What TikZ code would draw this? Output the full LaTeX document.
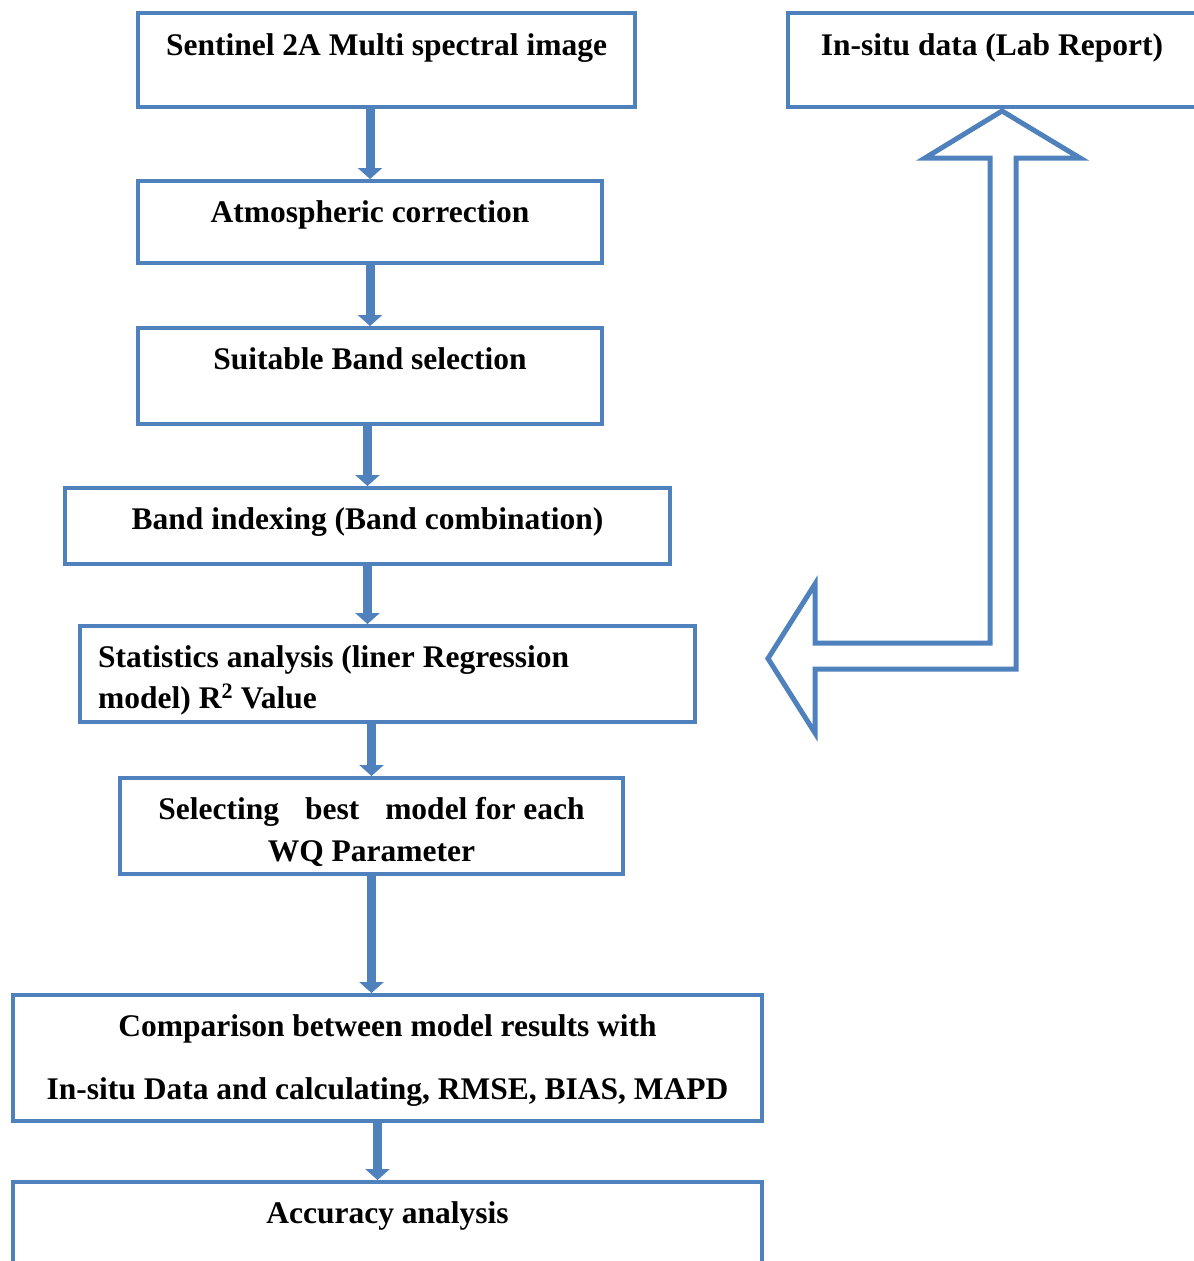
\documentclass[tikz,border=0pt]{standalone}
\usepackage{fontspec}
\setmainfont{Liberation Serif}
\usetikzlibrary{positioning, arrows.meta}

\definecolor{boxblue}{HTML}{4F81BD}

\tikzset{
  box/.style={rectangle, draw=boxblue, line width=4pt, inner sep=0pt},
  lbl/.style={anchor=base, inner sep=0pt, font=\fontsize{31.5}{41}\selectfont\bfseries, align=center},
  flow/.style={draw=boxblue, line width=9pt, -{Triangle[width=24pt,length=11pt]}},
}

\begin{document}
\begin{tikzpicture}[x=1pt, y=-1pt]
\useasboundingbox (0,0) rectangle (1194,1261);

\node[box, minimum width=497pt, minimum height=94pt] (sentinel) at (386.5,60) {};
\node[lbl] (sentineltxt) at ([yshift=-44pt]sentinel.north) {Sentinel 2A Multi spectral image};

\node[box, minimum width=412pt, minimum height=94pt] (insitu) at (994,60) {};
\node[lbl] (insitutxt) at ([yshift=-44pt]insitu.north -| 992,0) {In-situ data (Lab Report)};

\node[box, minimum width=464pt, minimum height=82pt] (atmos) at (370,222) {};
\node[lbl] (atmostxt) at ([yshift=-43pt]atmos.north) {Atmospheric correction};

\node[box, minimum width=464pt, minimum height=96pt] (bandsel) at (370,376) {};
\node[lbl] (bandseltxt) at ([yshift=-43pt]bandsel.north) {Suitable Band selection};

\node[box, minimum width=605pt, minimum height=76pt] (bandidx) at (367.5,526) {};
\node[lbl] (bandidxtxt) at ([yshift=-43pt]bandidx.north) {Band indexing (Band combination)};

% two-line labels: base anchor sits on the last line
\node[box, minimum width=615pt, minimum height=96pt] (stats) at (387.5,674) {};
\node[lbl, anchor=base west, align=left] (statstxt) at ([xshift=20pt, yshift=-84pt]stats.north west)
  {Statistics analysis (liner Regression\\model) R\textsuperscript{2} Value};

\node[box, minimum width=503pt, minimum height=96pt] (select) at (371.5,826) {};
\node[lbl] (selecttxt) at ([yshift=-85pt]select.north)
  {Selecting\hspace{26pt}best\hspace{26pt}model for each\\[1pt]WQ Parameter};

\node[box, minimum width=749pt, minimum height=126pt] (compare) at (387.5,1058) {};
\node[lbl] (comparetxt) at ([yshift=-106pt]compare.north)
  {Comparison between model results with\\[22pt]In-situ Data and calculating, RMSE, BIAS, MAPD};

\node[box, minimum width=749pt, minimum height=118pt] (accuracy) at (387.5,1241) {};
\node[lbl] (accuracytxt) at ([yshift=-43pt]accuracy.north) {Accuracy analysis};

% main flow
\draw[flow] (sentinel.south -| atmos.north) -- (atmos.north);
\draw[flow] (atmos.south) -- (bandsel.north);
\draw[flow] (bandsel.south -| bandidx.north) -- (bandidx.north);
\draw[flow] (bandidx.south) -- (bandidx.south |- stats.north);
\draw[flow] (stats.south -| select.north) -- (select.north);
\draw[flow] (select.south) -- (select.south |- compare.north);
\draw[flow] ([xshift=-10pt]compare.south) -- ([xshift=-10pt]accuracy.north);

% in-situ block arrow
\draw[boxblue, line width=5pt] (1002,111) -- (1080,158) -- (1016,158) -- (1016,669)
  -- (815,669) -- (815,733) -- (768,658.5) -- (815,584) -- (815,643) -- (990,643)
  -- (990,158) -- (925,158) -- cycle;
\end{tikzpicture}
\end{document}
